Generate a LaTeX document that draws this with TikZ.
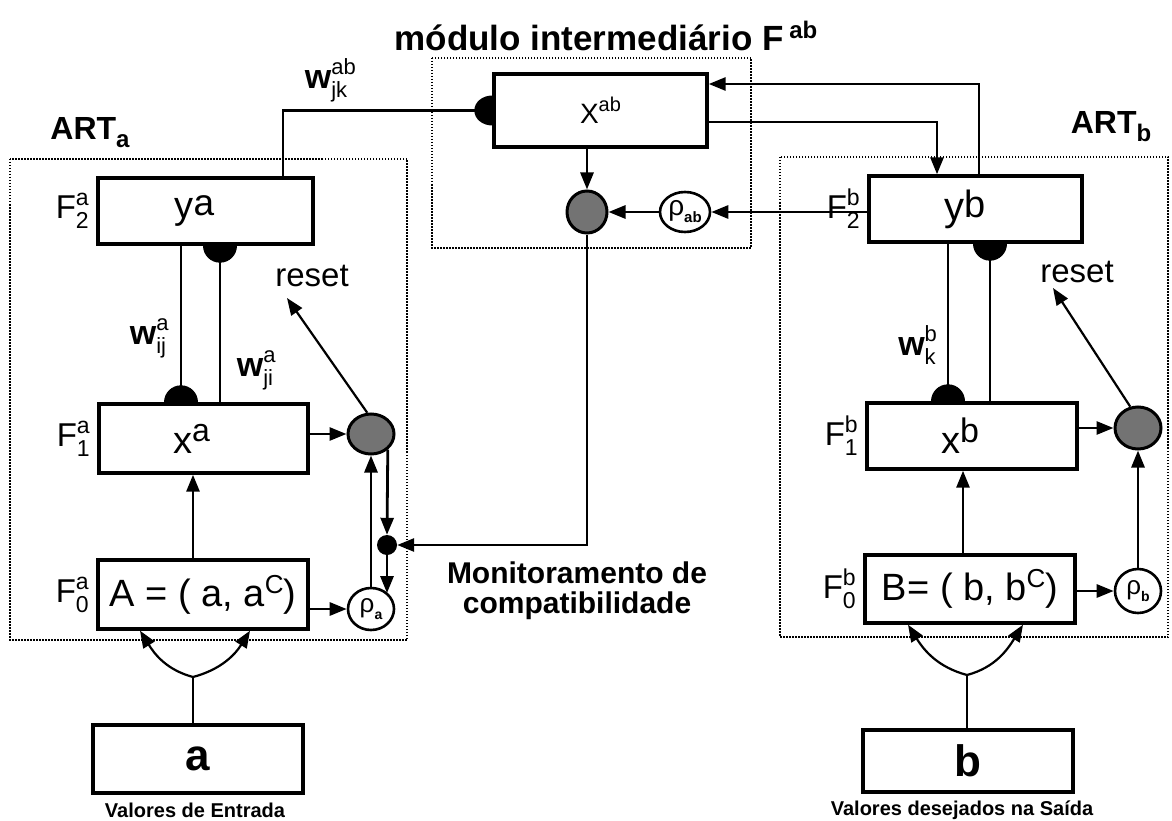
\documentclass[tikz,border=0pt]{standalone}
\usepackage{fontspec}
\setmainfont{Liberation Sans}
\usetikzlibrary{arrows.meta,shapes.geometric,calc}
\newcommand\fs[1]{\fontsize{#1}{#1}\selectfont}
\newcommand\lab[3]{{\fs{33}#1}\rlap{\raisebox{13pt}{\fs{23}#3}}\raisebox{-10pt}{\fs{23}#2}}
\newcommand\wl[2]{{\fs{34}\bfseries w}\rlap{\raisebox{14pt}{\fs{22}#2}}\raisebox{-9pt}{\fs{22}#1}}
\newcommand\pad[1]{\rule{#1}{0pt}}
\begin{document}
\begin{tikzpicture}[x=1pt,y=1pt,
 box/.style={draw,line width=3.4pt,inner sep=0pt,fill=white},
 ln/.style={line width=2.8pt},
 thn/.style={line width=2.2pt},
 arr/.style={line width=2.8pt,-{Triangle[length=17pt,width=13pt]}},
 tarr/.style={line width=2.2pt,-{Triangle[length=17pt,width=13pt]}},
 dotbox/.style={line width=1.8pt,dash pattern=on 1.5pt off 1.5pt},
 gcirc/.style={ellipse,draw,line width=3pt,fill=black!55,inner sep=0pt},
 rcirc/.style={ellipse,draw,line width=2.6pt,fill=white,inner sep=0pt},
]
\useasboundingbox (0,0) rectangle (1172,-821);
% dotted frames
\draw[dotbox] (10,-159) rectangle (407,-640);
\draw[dotbox] (432,-58) rectangle (751,-248);
\draw[dotbox] (780,-157) rectangle (1168,-637);

% boxes
\node[box,minimum width=215pt,minimum height=66pt] (ya) at (205.5,-211) {\fs{38}y\raisebox{3pt}{\fs{37}a}\pad{22pt}};
\node[box,minimum width=209pt,minimum height=69pt] (xa) at (203.5,-438.5) {\fs{38}x\raisebox{12pt}{\fs{32}a}\pad{24pt}};
\node[box,minimum width=210pt,minimum height=69pt] (A) at (203,-594.5) {\fs{38}A = ( a, a\raisebox{13pt}{\fs{26}C})};
\node[box,minimum width=210pt,minimum height=68pt] (a) at (198,-759) {\fs{44}\bfseries a};
\node[box,minimum width=213pt,minimum height=73pt] (xab) at (600.5,-110.5) {\fs{28}X\raisebox{12pt}{\fs{20}ab}};
\node[box,minimum width=213pt,minimum height=66pt] (yb) at (975.5,-209) {\fs{40}y\raisebox{3pt}{\fs{38}b}\pad{20pt}};
\node[box,minimum width=210pt,minimum height=66pt] (xb) at (972,-436) {\fs{38}x\raisebox{11pt}{\fs{34}b}\pad{24pt}};
\node[box,minimum width=210pt,minimum height=68pt] (B) at (970,-589) {\fs{38}B= ( b, b\raisebox{13pt}{\fs{26}C})};
\node[box,minimum width=210pt,minimum height=62pt] (b) at (968,-761) {\fs{44}\bfseries b};

% circles
\node[gcirc,minimum width=46pt,minimum height=40pt] (ga) at (371,-434) {};
\node[rcirc,minimum width=46pt,minimum height=42pt] (ra) at (371,-609) {\fs{26}ρ\raisebox{-7pt}{\fs{14}\bfseries a}};
\node[gcirc,minimum width=40pt,minimum height=42pt] (gab) at (587,-212) {};
\node[rcirc,minimum width=50pt,minimum height=40pt] (rab) at (685,-212) {\fs{28}ρ\raisebox{-7pt}{\fs{15}\bfseries ab}};
\node[gcirc,minimum width=46pt,minimum height=42pt] (gb) at (1138,-428) {};
\node[rcirc,minimum width=46pt,minimum height=44pt] (rb) at (1138,-591) {\fs{26}ρ\raisebox{-7pt}{\fs{14}\bfseries b}};
\node[circle,fill,inner sep=0pt,minimum size=20pt] (dot) at (387,-545) {};

% intermediate module connectors
\draw[ln] ([xshift=77.5pt]ya.north) |- (xab.west);
\fill (xab.west) ++(0,15) arc[start angle=90,end angle=270,x radius=18,y radius=15] -- cycle;
\draw[arr] ([xshift=3.5pt]yb.north) |- ([yshift=26.5pt]xab.east);
\draw[arr] ([yshift=-11.5pt]xab.east) -| ([xshift=-38.5pt]yb.north);
\draw[arr] (xab.south -| gab.north) -- (gab.north);
\draw[arr] (yb.west |- rab.east) -- (rab.east);
\draw[arr] (rab.west) -- (gab.east);
\draw[arr] (gab.south) |- (dot.east);

% ART a
\draw[ln] ([xshift=-24.5pt]ya.south) -- ([xshift=-24.5pt]ya.south |- xa.north);
\fill ([xshift=-24.5pt]ya.south |- xa.north) ++(-17,0) arc[start angle=180,end angle=0,radius=17] -- cycle;
\draw[ln] ([xshift=14.5pt]ya.south) -- ([xshift=14.5pt]ya.south |- xa.north);
\fill ([xshift=14.5pt]ya.south) ++(-17,0) arc[start angle=180,end angle=360,radius=17] -- cycle;
\draw[arr] ([xshift=-10pt]A.north) -- ([xshift=-10pt]A.north |- xa.south);
\draw[arr] (xa.east |- ga.west) -- (ga.west);
\draw[arr] (A.east |- ra.west) -- (ra.west);
\draw[arr] (ra.north) -- (ga.south);
\draw[arr] (ga.-43) -- (dot.north);
\draw[arr] (dot.south) -- (dot.south |- ra.43);
\node[font=\fs{33}] (rsa) at (312,-276) {reset};
\coordinate (rta) at (287,-298);
\draw[tarr] (ga.100) -- (rta);

% ART b
\draw[ln] ([xshift=-27.5pt]yb.south) -- ([xshift=-27.5pt]yb.south |- xb.north);
\fill ([xshift=-27.5pt]yb.south |- xb.north) ++(-17,0) arc[start angle=180,end angle=0,radius=17] -- cycle;
\draw[ln] ([xshift=14.5pt]yb.south) -- ([xshift=14.5pt]yb.south |- xb.north);
\fill ([xshift=14.5pt]yb.south) ++(-17,0) arc[start angle=180,end angle=360,radius=17] -- cycle;
\draw[arr] ([xshift=-7pt]B.north) -- ([xshift=-7pt]B.north |- xb.south);
\draw[arr] (xb.east |- gb.west) -- (gb.west);
\draw[arr] (B.east |- rb.west) -- (rb.west);
\draw[arr] (rb.north) -- (gb.south);
\node[font=\fs{33}] (rsb) at (1077,-272) {reset};
\coordinate (rtb) at (1053,-288);
\draw[tarr] (gb.110) -- (rtb);

% inputs
\coordinate (ja) at (193,-677);
\draw[thn] (a.north -| ja) -- (ja);
\draw[tarr] (ja) to[out=165,in=-58] ([xshift=-63pt]A.south);
\draw[tarr] (ja) to[out=15,in=-122] ([xshift=47pt]A.south);
\coordinate (jb) at (967,-675);
\draw[thn] (b.north -| jb) -- (jb);
\draw[tarr] (jb) to[out=165,in=-58] ([xshift=-62pt]B.south);
\draw[tarr] (jb) to[out=15,in=-122] ([xshift=53pt]B.south);

% labels
\node[anchor=east] (f2a) at ([xshift=-4pt]ya.west) {\lab{F}{2}{a}};
\node[anchor=east] (f1a) at ([xshift=-4pt]xa.west) {\lab{F}{1}{a}};
\node[anchor=east] (f0a) at ([xshift=-4pt]A.west) {\lab{F}{0}{a}};
\node[anchor=east] (f2b) at ([xshift=-4pt]yb.west) {\lab{F}{2}{b}};
\node[anchor=east] (f1b) at ([xshift=-4pt]xb.west) {\lab{F}{1}{b}};
\node[anchor=east] (f0b) at ([xshift=-4pt]B.west) {\lab{F}{0}{b}};
\node (wjk) at (326,-80) {\wl{jk}{ab}};
\node (wij) at (148,-338) {\wl{ij}{a}};
\node (wji) at (255,-370) {\wl{ji}{a}};
\node (wk) at (917,-345) {\wl{k}{b}};
\node (arta) at (90,-133) {\fs{32}\bfseries ART\raisebox{-8pt}{\fs{24}a}};
\node (artb) at (1111,-127) {\fs{32}\bfseries ART\raisebox{-8pt}{\fs{24}b}};
\node (title) at (606,-36) {\fs{35}\bfseries módulo intermediário F\,\raisebox{12pt}{\fs{24}ab}};
\node[align=center,font=\fs{30}\bfseries] (mon) at (577,-591) {Monitoramento de\\compatibilidade};
\node (va) at (195,-810) {\fs{20}\bfseries Valores de Entrada};
\node (vb) at (962,-810) {\fs{20}\bfseries Valores desejados na Saída};
\end{tikzpicture}
\end{document}
